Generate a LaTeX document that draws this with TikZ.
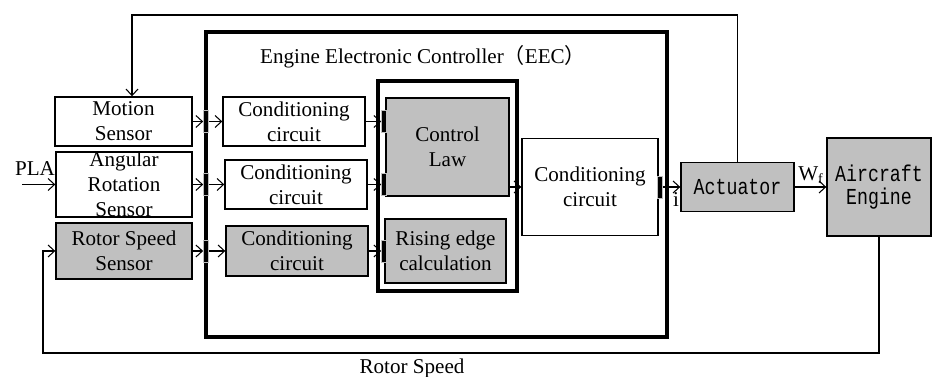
\documentclass[tikz,border=0pt]{standalone}
\usepackage{fontspec}
\setmainfont{Liberation Serif}
\newfontfamily\cjk{Noto Sans CJK SC}
\newfontfamily\typefont[FakeStretch=0.8]{Liberation Mono}
\usetikzlibrary{arrows.meta, positioning, calc}
\definecolor{blockgray}{RGB}{192,192,192}

\begin{document}
\begin{tikzpicture}[x=0.02cm, y=-0.02cm,
    block/.style={rectangle, draw, line width=0.8pt, align=center, inner sep=0pt, font=\fontsize{12}{14.2}\selectfont},
    grayblock/.style={block, fill=blockgray},
    typeblock/.style={grayblock, font=\fontsize{13}{13.5}\typefont},
    frame/.style={rectangle, draw, line width=2pt, inner sep=0pt},
    port/.style={rectangle, fill=black, draw=gray!50, line width=0.4pt, minimum width=0.1cm, minimum height=0.44cm, inner sep=0pt},
    arrow/.style={-{Straight Barb[length=1.3mm, width=2.4mm]}, line width=0.6pt},
    label/.style={font=\fontsize{12}{14.2}\selectfont, align=center, inner sep=0pt},
]
\useasboundingbox (0,0) rectangle (932,377);

\node[frame, minimum width=9.22cm, minimum height=6.1cm] (eec) at (436.5,184.5) {};
\node[label] (eectitle) at (423,57) {Engine Electronic Controller{\cjk （}EEC{\cjk ）}};
\node[frame, line width=2.2pt, minimum width=2.78cm, minimum height=4.2cm] (core) at (447.5,186) {};

\node[block, minimum width=2.74cm, minimum height=0.98cm] (motion) at (123.5,121.5) {Motion\\Sensor};
\node[block, minimum width=2.72cm, minimum height=1.3cm] (angular) at (124,184.5) {};
\node[label] (angulartext) at (angular) {Angular\\Rotation\\Sensor};
\node[grayblock, minimum width=2.72cm, minimum height=1.12cm] (rotor) at (124,251) {Rotor Speed\\Sensor};

\node[block, minimum width=2.84cm, minimum height=0.98cm] (cond1) at (294,121.5) {Conditioning\\circuit};
\node[block, minimum width=2.84cm, minimum height=0.98cm] (cond2) at (296,184.5) {Conditioning\\circuit};
\node[grayblock, minimum width=2.84cm, minimum height=1cm] (cond3) at (297,251) {Conditioning\\circuit};

\node[grayblock, minimum width=2.46cm, minimum height=1.96cm] (law) at (447.5,147) {Control\\Law};
\node[grayblock, minimum width=2.42cm, minimum height=1.28cm] (rising) at (445.5,251) {Rising edge\\calculation};

\node[block, minimum width=2.72cm, minimum height=1.94cm] (cond4) at (590,187) {Conditioning\\circuit};
\node[typeblock, minimum width=2.26cm, minimum height=0.98cm] (actuator) at (737.5,187) {Actuator};
\node[typeblock, minimum width=2.08cm, minimum height=1.96cm] (engine) at (879,187) {Aircraft\\Engine};

\node[port] (in1) at (206,121.5) {};
\node[port] (in2) at (206,184.5) {};
\node[port] (in3) at (206,251) {};
\node[port] (law1) at (384,121.5) {};
\node[port] (law2) at (384,184.5) {};
\node[port] (rise1) at (384,251) {};
\node[port] (out) at (660,187) {};

\draw[arrow] (motion.east) -- (in1.west);
\draw[arrow] (angular.east) -- (in2.west);
\draw[arrow] (rotor.east) -- (in3.west);
\draw[arrow] (in1.east) -- (cond1.west);
\draw[arrow] (in2.east) -- (cond2.west);
\draw[arrow] (in3.east) -- (cond3.west);
\draw[arrow] (cond1.east) -- (law1.west);
\draw[arrow] (cond2.east) -- (law2.west);
\draw[arrow] (cond3.east) -- (rise1.west);
\draw[arrow] (law.east |- cond4) -- (cond4.west);
\draw[arrow] (out.east) -- (actuator.west);
\node[label] (current) at (676,200) {i};
\draw[arrow] (actuator.east) -- (engine.west);
\node[label] (fuel) at (811,175) {W\textsubscript{f}};

\coordinate (pla0) at (22,184.5);
\node[label] (pla) at (35,169) {PLA};
\draw[arrow] (pla0) -- (angular.west);

\coordinate (topright) at (737.5,15);
\coordinate (topleft) at (132,15);
\draw[arrow] (actuator.north) -- (topright) -- (topleft) -- (topleft |- motion.north);

\coordinate (botleft) at (43,353);
\draw[arrow] (engine.south) |- (botleft) |- (rotor.west);
\node[label] (speed) at (412,368) {Rotor Speed};

\end{tikzpicture}
\end{document}
